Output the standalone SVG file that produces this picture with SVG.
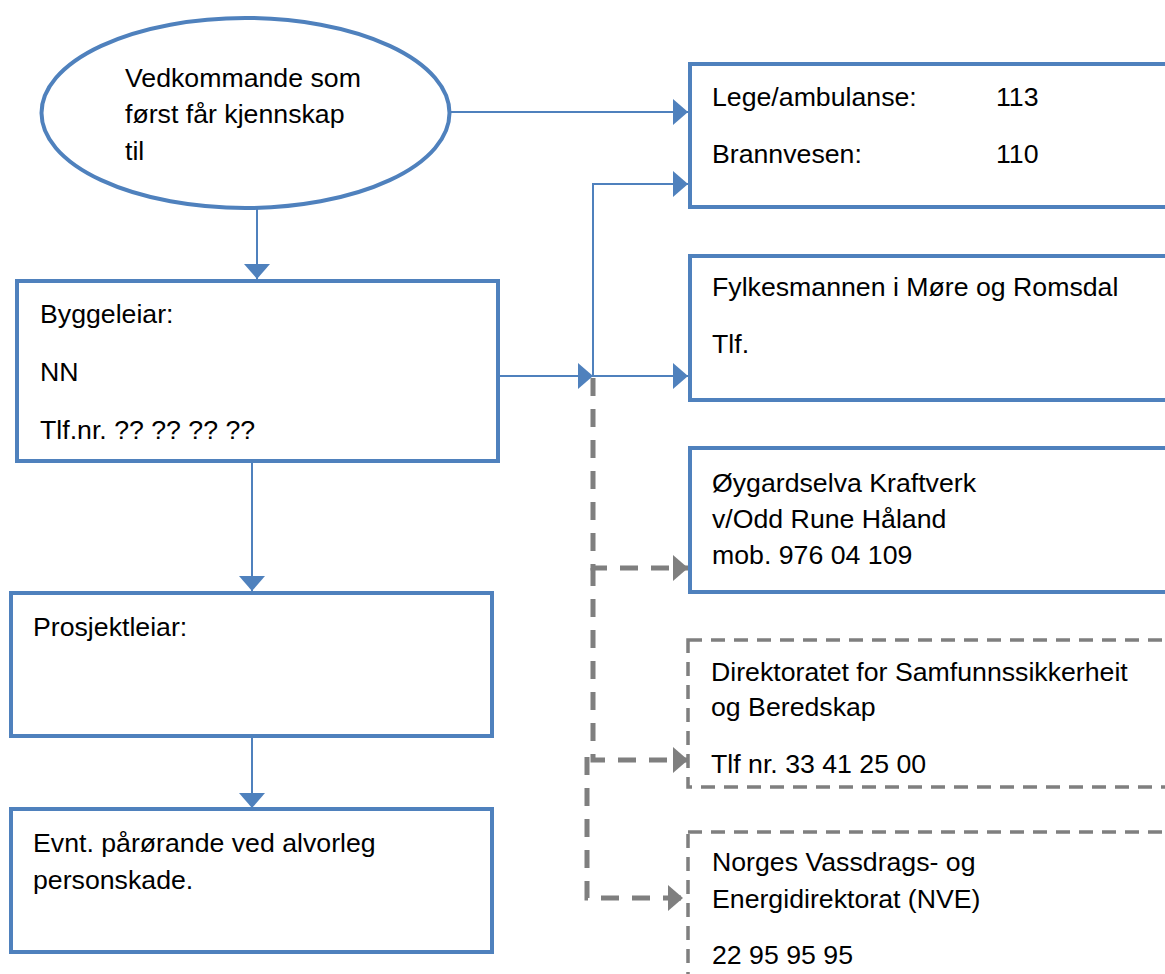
<svg xmlns="http://www.w3.org/2000/svg" width="1165" height="974" viewBox="0 0 1165 974">
<style>
.t{font-family:"Liberation Sans",Arial,sans-serif;font-size:26.7px;fill:#000}
.box{fill:#fff;stroke:#4f81bd;stroke-width:4}
.dbox{fill:#fff;stroke:#7f7f7f;stroke-width:3.5;stroke-dasharray:14 9}
.bl{fill:none;stroke:#4f81bd;stroke-width:2}
.gl{fill:none;stroke:#7f7f7f;stroke-width:5;stroke-dasharray:18 13}
</style>
<defs>
<marker id="ab" markerUnits="userSpaceOnUse" markerWidth="15" markerHeight="26" refX="15" refY="13" orient="auto" viewBox="0 0 15 26">
<path d="M0,0 L15,13 L0,26 z" fill="#4f81bd"/>
</marker>
<marker id="ag" markerUnits="userSpaceOnUse" markerWidth="15" markerHeight="26" refX="15" refY="13" orient="auto" viewBox="0 0 15 26">
<path d="M0,0 L15,13 L0,26 z" fill="#7f7f7f"/>
</marker>
</defs>
<rect width="1165" height="974" fill="#fff"/>
<g id="connectors">
<line class="bl" x1="257" y1="208" x2="257" y2="279" marker-end="url(#ab)"/>
<line class="bl" x1="450" y1="112" x2="688" y2="112" marker-end="url(#ab)"/>
<polyline class="bl" points="593,376 593,184 688,184" marker-end="url(#ab)"/>
<line class="bl" x1="498" y1="376" x2="593" y2="376" marker-end="url(#ab)"/>
<line class="bl" x1="593" y1="376" x2="688" y2="376" marker-end="url(#ab)"/>
<line class="bl" x1="252" y1="461" x2="252" y2="591" marker-end="url(#ab)"/>
<line class="bl" x1="252" y1="736" x2="252" y2="808" marker-end="url(#ab)"/>
<polyline class="gl" points="593,378 593,568 688,568" marker-end="url(#ag)"/>
<polyline class="gl" points="593,568 593,760 688,760" marker-end="url(#ag)"/>
<polyline class="gl" points="587,757 587,898 683,898" marker-end="url(#ag)"/>
</g>
<g id="n-start">
<ellipse cx="245.5" cy="113" rx="204" ry="95" fill="#fff" stroke="#4f81bd" stroke-width="4"/>
<text class="t" x="125" y="87">Vedkommande som</text>
<text class="t" x="125" y="123">først får kjennskap</text>
<text class="t" x="125" y="160">til</text>
</g>
<g id="n-naud">
<rect class="box" x="690" y="64" width="490" height="143"/>
<text class="t" x="712" y="106">Lege/ambulanse:</text>
<text class="t" x="996" y="106">113</text>
<text class="t" x="712" y="163">Brannvesen:</text>
<text class="t" x="996" y="163">110</text>
</g>
<g id="n-fylkesmann">
<rect class="box" x="690" y="256" width="490" height="144"/>
<text class="t" x="712" y="296">Fylkesmannen i Møre og Romsdal</text>
<text class="t" x="712" y="353">Tlf.</text>
</g>
<g id="n-kraftverk">
<rect class="box" x="690" y="448" width="490" height="144"/>
<text class="t" x="712" y="492">Øygardselva Kraftverk</text>
<text class="t" x="712" y="528">v/Odd Rune Håland</text>
<text class="t" x="712" y="564">mob. 976 04 109</text>
</g>
<g id="n-dsb">
<rect class="dbox" x="688" y="640" width="492" height="147"/>
<text class="t" x="711" y="681">Direktoratet for Samfunnssikkerheit</text>
<text class="t" x="711" y="716">og Beredskap</text>
<text class="t" x="711" y="773">Tlf nr. 33 41 25 00</text>
</g>
<g id="n-nve">
<rect class="dbox" x="688" y="832" width="492" height="160"/>
<text class="t" x="712" y="871">Norges Vassdrags- og</text>
<text class="t" x="712" y="908">Energidirektorat (NVE)</text>
<text class="t" x="712" y="964">22 95 95 95</text>
</g>
<g id="n-byggeleiar">
<rect class="box" x="17" y="281" width="481" height="180"/>
<text class="t" x="40" y="323">Byggeleiar:</text>
<text class="t" x="40" y="381">NN</text>
<text class="t" x="40" y="439">Tlf.nr. ?? ?? ?? ??</text>
</g>
<g id="n-prosjektleiar">
<rect class="box" x="11" y="593" width="481" height="143"/>
<text class="t" x="33" y="636">Prosjektleiar:</text>
</g>
<g id="n-parorande">
<rect class="box" x="11" y="809" width="481" height="143"/>
<text class="t" x="33" y="852">Evnt. pårørande ved alvorleg</text>
<text class="t" x="33" y="889">personskade.</text>
</g>
</svg>
